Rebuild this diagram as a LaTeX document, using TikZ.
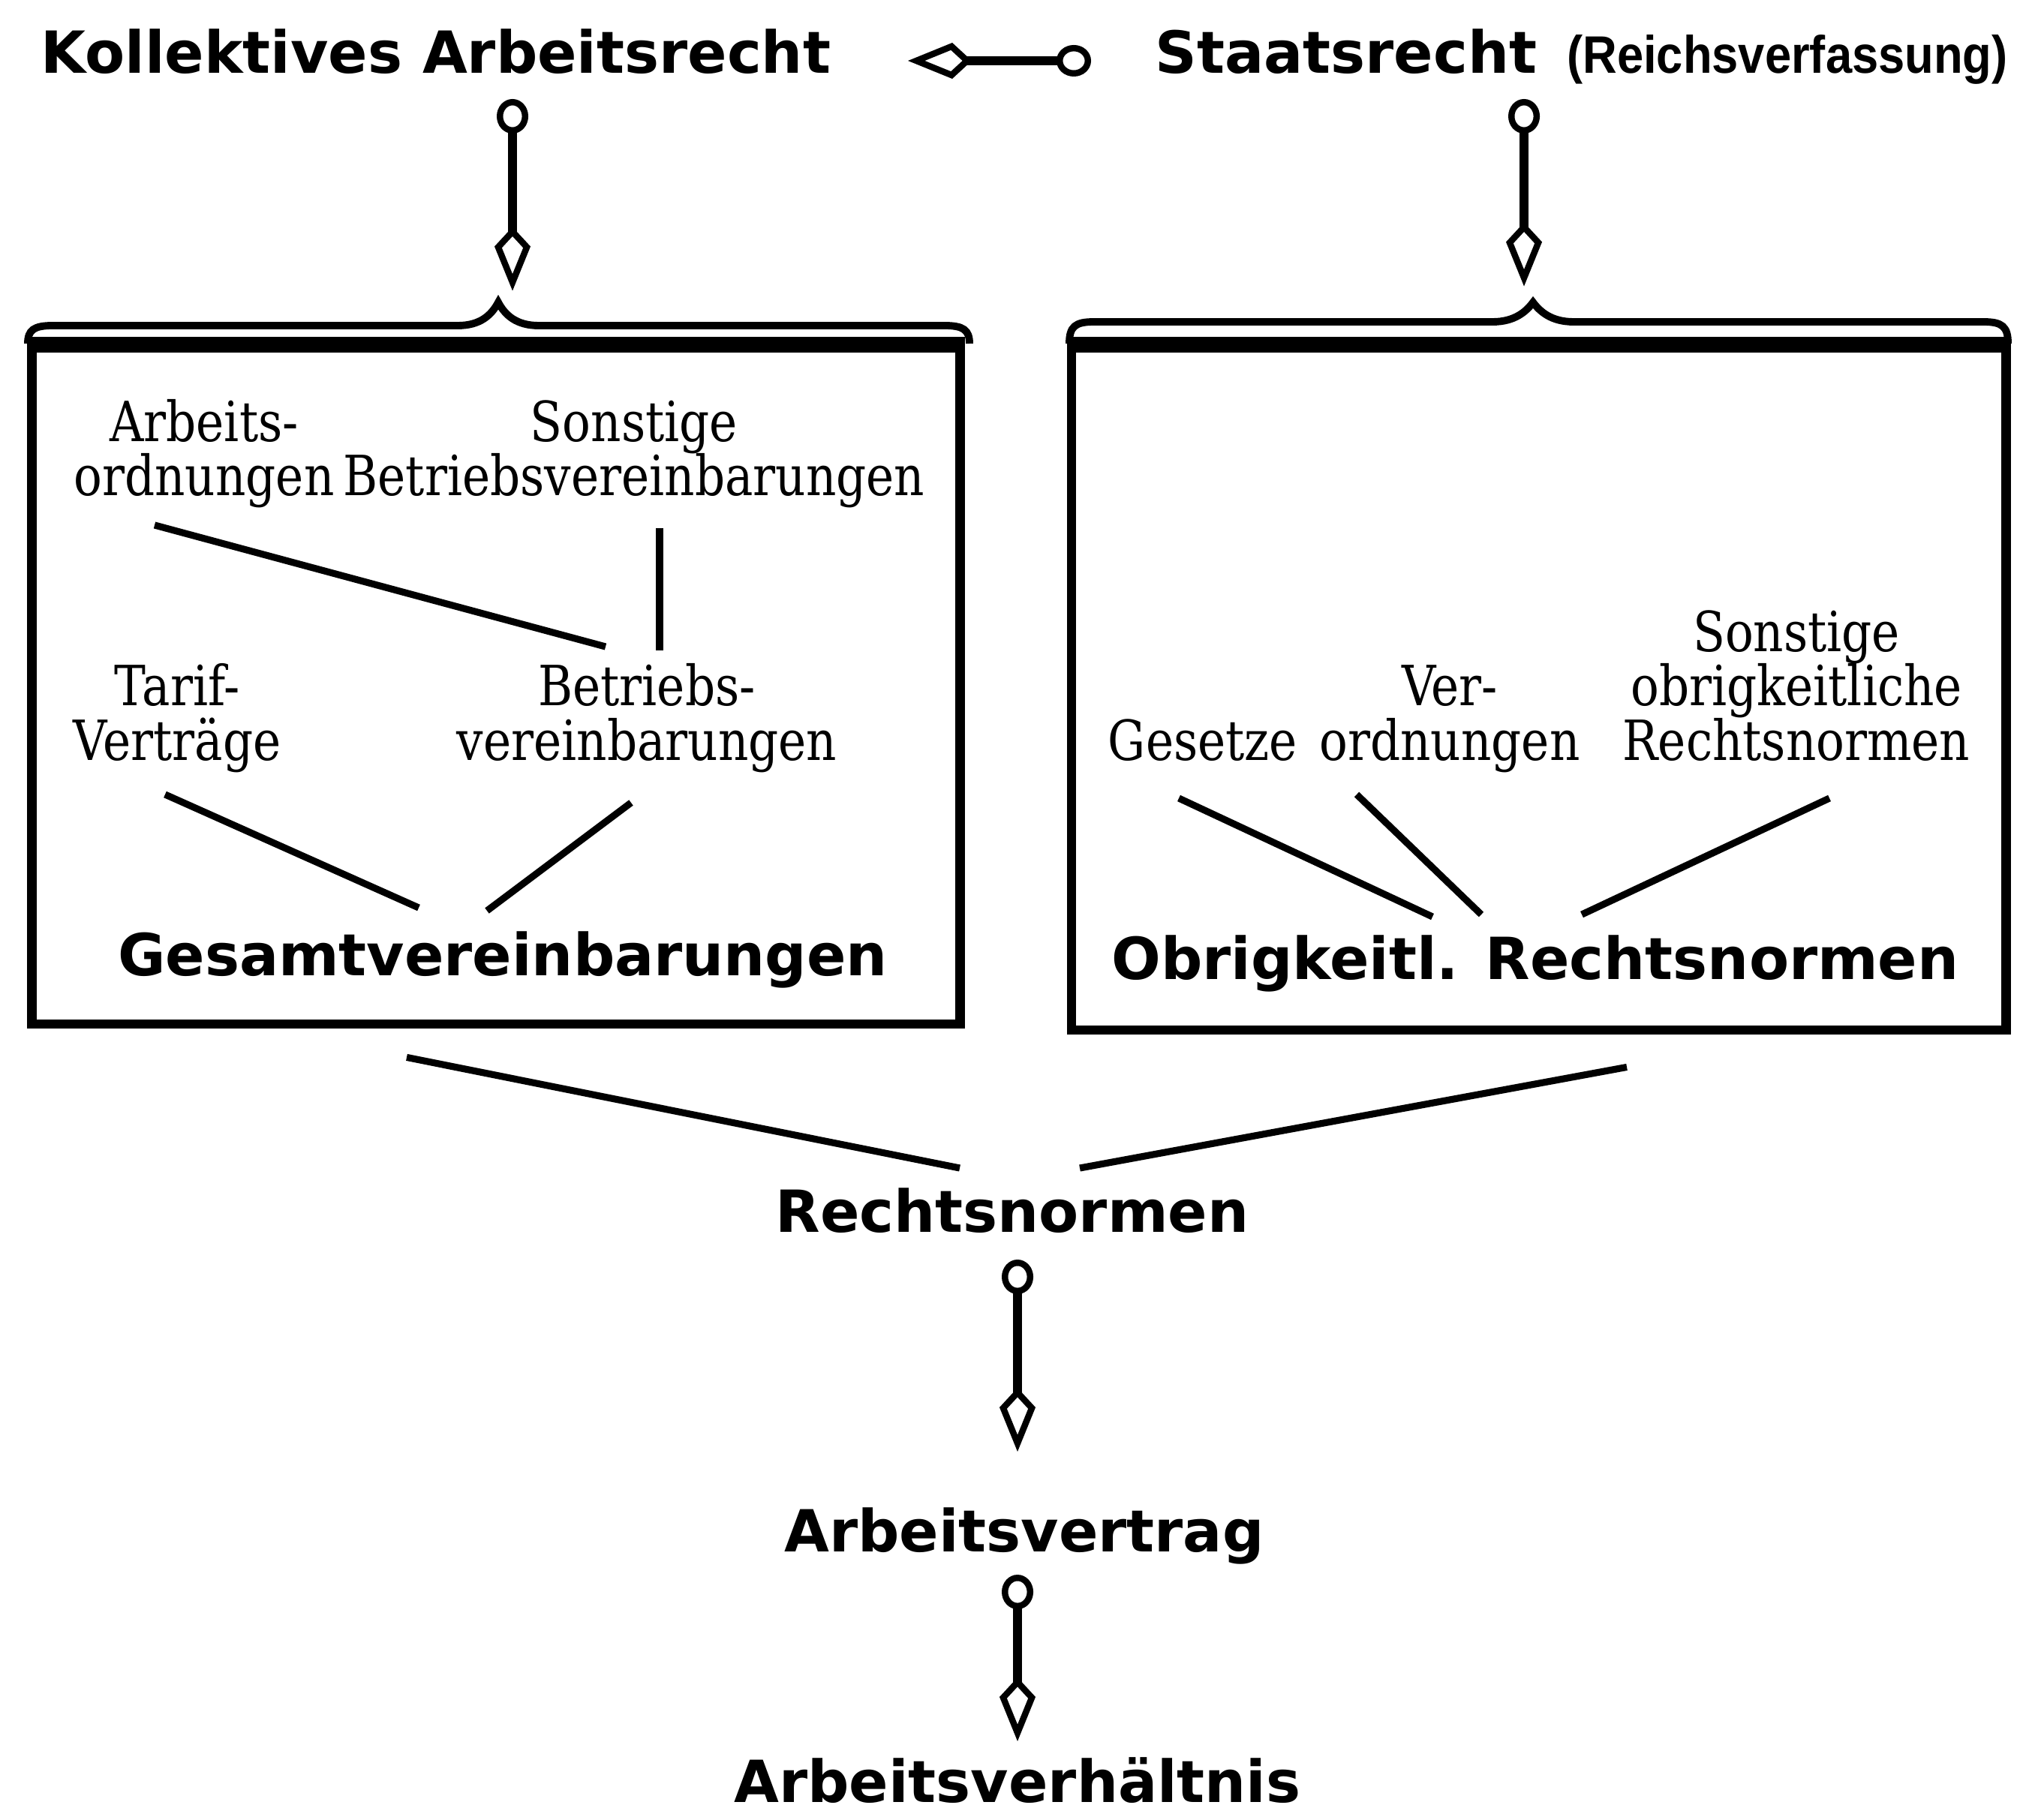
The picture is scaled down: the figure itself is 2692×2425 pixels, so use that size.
\documentclass[tikz,border=0pt]{standalone}
\usepackage{graphicx}
\usepackage{fontspec}
\newfontfamily\headfont{DejaVu Sans}
\newfontfamily\narrowfont{Liberation Sans}
\newfontfamily\termfont{DejaVu Serif}[FakeStretch=0.85]
\newcommand{\tightlines}{\lineskiplimit=-50pt\relax}
\usetikzlibrary{arrows.meta, calc, positioning}

% brace above a box: left x, right x, tip x, height of the flat part
\newcommand{\boxbrace}[4]{%
  \draw[brace] (#1,458) .. controls (#1,#4+6) and (#1+8,#4) .. (#1+33,#4)
    -- (#3-54,#4) .. controls (#3-24,#4) and (#3-9,#4-14) .. (#3,403)
    .. controls (#3+9,#4-14) and (#3+24,#4) .. (#3+54,#4)
    -- (#2-33,#4) .. controls (#2-8,#4) and (#2,#4+6) .. (#2,458);}

\tikzset{
  head/.style={font=\headfont\bfseries\fontsize{22pt}{24pt}\selectfont, inner sep=0pt, anchor=base},
  narrow/.style={font=\narrowfont\bfseries\fontsize{20pt}{22pt}\selectfont, inner sep=0pt, anchor=base},
  term/.style={font=\termfont\fontsize{21pt}{20.5pt}\selectfont\tightlines,
    align=center, inner sep=0pt, anchor=base},
  frame/.style={draw, line width=3.5pt, inner sep=0pt},
  topbar/.style={line width=5pt},
  brace/.style={line width=2.8pt},
  rule/.style={line width=2.6pt},
  link/.style={line width=3.6pt,
    arrows={Circle[open,length=4.6mm,width=4.2mm,line width=2.4pt]-Kite[open,length=8.5mm,width=4.8mm,inset=2.6mm,line width=2.4pt]}}
}

\begin{document}
\begin{tikzpicture}[x=0.01cm, y=-0.01cm]
    \useasboundingbox (0,0) rectangle (2692,2425);

    % the two boxes
    \node[frame, minimum width=12.36cm, minimum height=9.01cm] (gesbox) at (661,914.5) {};
    \node[frame, minimum width=12.45cm, minimum height=9.09cm] (obrbox) at (2050.5,918.5) {};
    \draw[topbar] (gesbox.north west) -- (gesbox.north east);
    \draw[topbar] (obrbox.north west) -- (obrbox.north east);
    \boxbrace{37}{1292}{664}{434}
    \boxbrace{1425}{2676}{2043}{429}

    % headings
    \node[head]   (kol)     at (581,98)   {Kollektives Arbeitsrecht};
    \node[head]   (staat)   at (1794,98)  {Staatsrecht};
    \node[narrow] (reich)   at (2382,98)  {\scalebox{0.9}[1]{(Reichsverfassung)}};

    % left box (base = last line)
    \node[term]   (arbord)  at (272,661)  {Arbeits-\\ordnungen};
    \node[term]   (sonst)   at (845,661)  {Sonstige\\Betriebsvereinbarungen};
    \node[term]   (tarif)   at (236,1013) {Tarif-\\Verträge};
    \node[term]   (betr)    at (862,1013) {Betriebs-\\vereinbarungen};
    \node[head]   (ges)     at (670,1300) {Gesamtvereinbarungen};

    % right box
    \node[term]   (sonstobr) at (2394,1013) {Sonstige\\obrigkeitliche\\Rechtsnormen};
    \node[term]   (verord)  at (1932,1013) {Ver-\\ordnungen};
    \node[term]   (gesetze) at (1603,1013) {Gesetze};
    \node[head]   (obr)     at (2046,1305) {Obrigkeitl. Rechtsnormen};

    % lower chain
    \node[head]   (rechts)  at (1349,1642) {Rechtsnormen};
    \node[head]   (vertrag) at (1365,2068) {Arbeitsvertrag};
    \node[head]   (verh)    at (1356,2402) {Arbeitsverhältnis};

    % arrows
    \draw[link] ($(staat.base)+(-340,-17)$) -- ($(kol.base)+(629,-17)$);
    \draw[link] ($(kol.base)+(102,34)$) -- ($(gesbox.north)+(22,-70)$);
    \draw[link] ($(staat.base)+(237,34)$) -- ($(obrbox.north)+(-19.5,-76)$);
    \draw[link] ($(rechts.base)+(7,37)$) -- ($(vertrag.base)+(-9,-133)$);
    \draw[link] ($(vertrag.base)+(-9,31)$) -- ($(verh.base)+(0,-81)$);

    % lines in the left box
    \draw[rule] ($(arbord.base)+(-66,39)$) -- ($(betr.base)+(-55,-151)$);
    \draw[rule] ($(sonst.base)+(34,43)$) -- ($(betr.base)+(17,-146)$);
    \draw[rule] ($(tarif.base)+(-16,46)$) -- ($(ges.base)+(-112,-90)$);
    \draw[rule] ($(betr.base)+(-21,57)$) -- ($(ges.base)+(-21,-86)$);

    % lines in the right box
    \draw[rule] ($(gesetze.base)+(-32,51)$) -- ($(obr.base)+(-137,-83)$);
    \draw[rule] ($(verord.base)+(-124,46)$) -- ($(obr.base)+(-72,-86)$);
    \draw[rule] ($(sonstobr.base)+(44,51)$) -- ($(obr.base)+(62,-86)$);

    % lines down to Rechtsnormen
    \draw[rule] ($(gesbox.south)+(-119,38)$) -- ($(rechts.base)+(-70,-85)$);
    \draw[rule] ($(obrbox.south)+(117.5,43)$) -- ($(rechts.base)+(90,-85)$);
\end{tikzpicture}
\end{document}
